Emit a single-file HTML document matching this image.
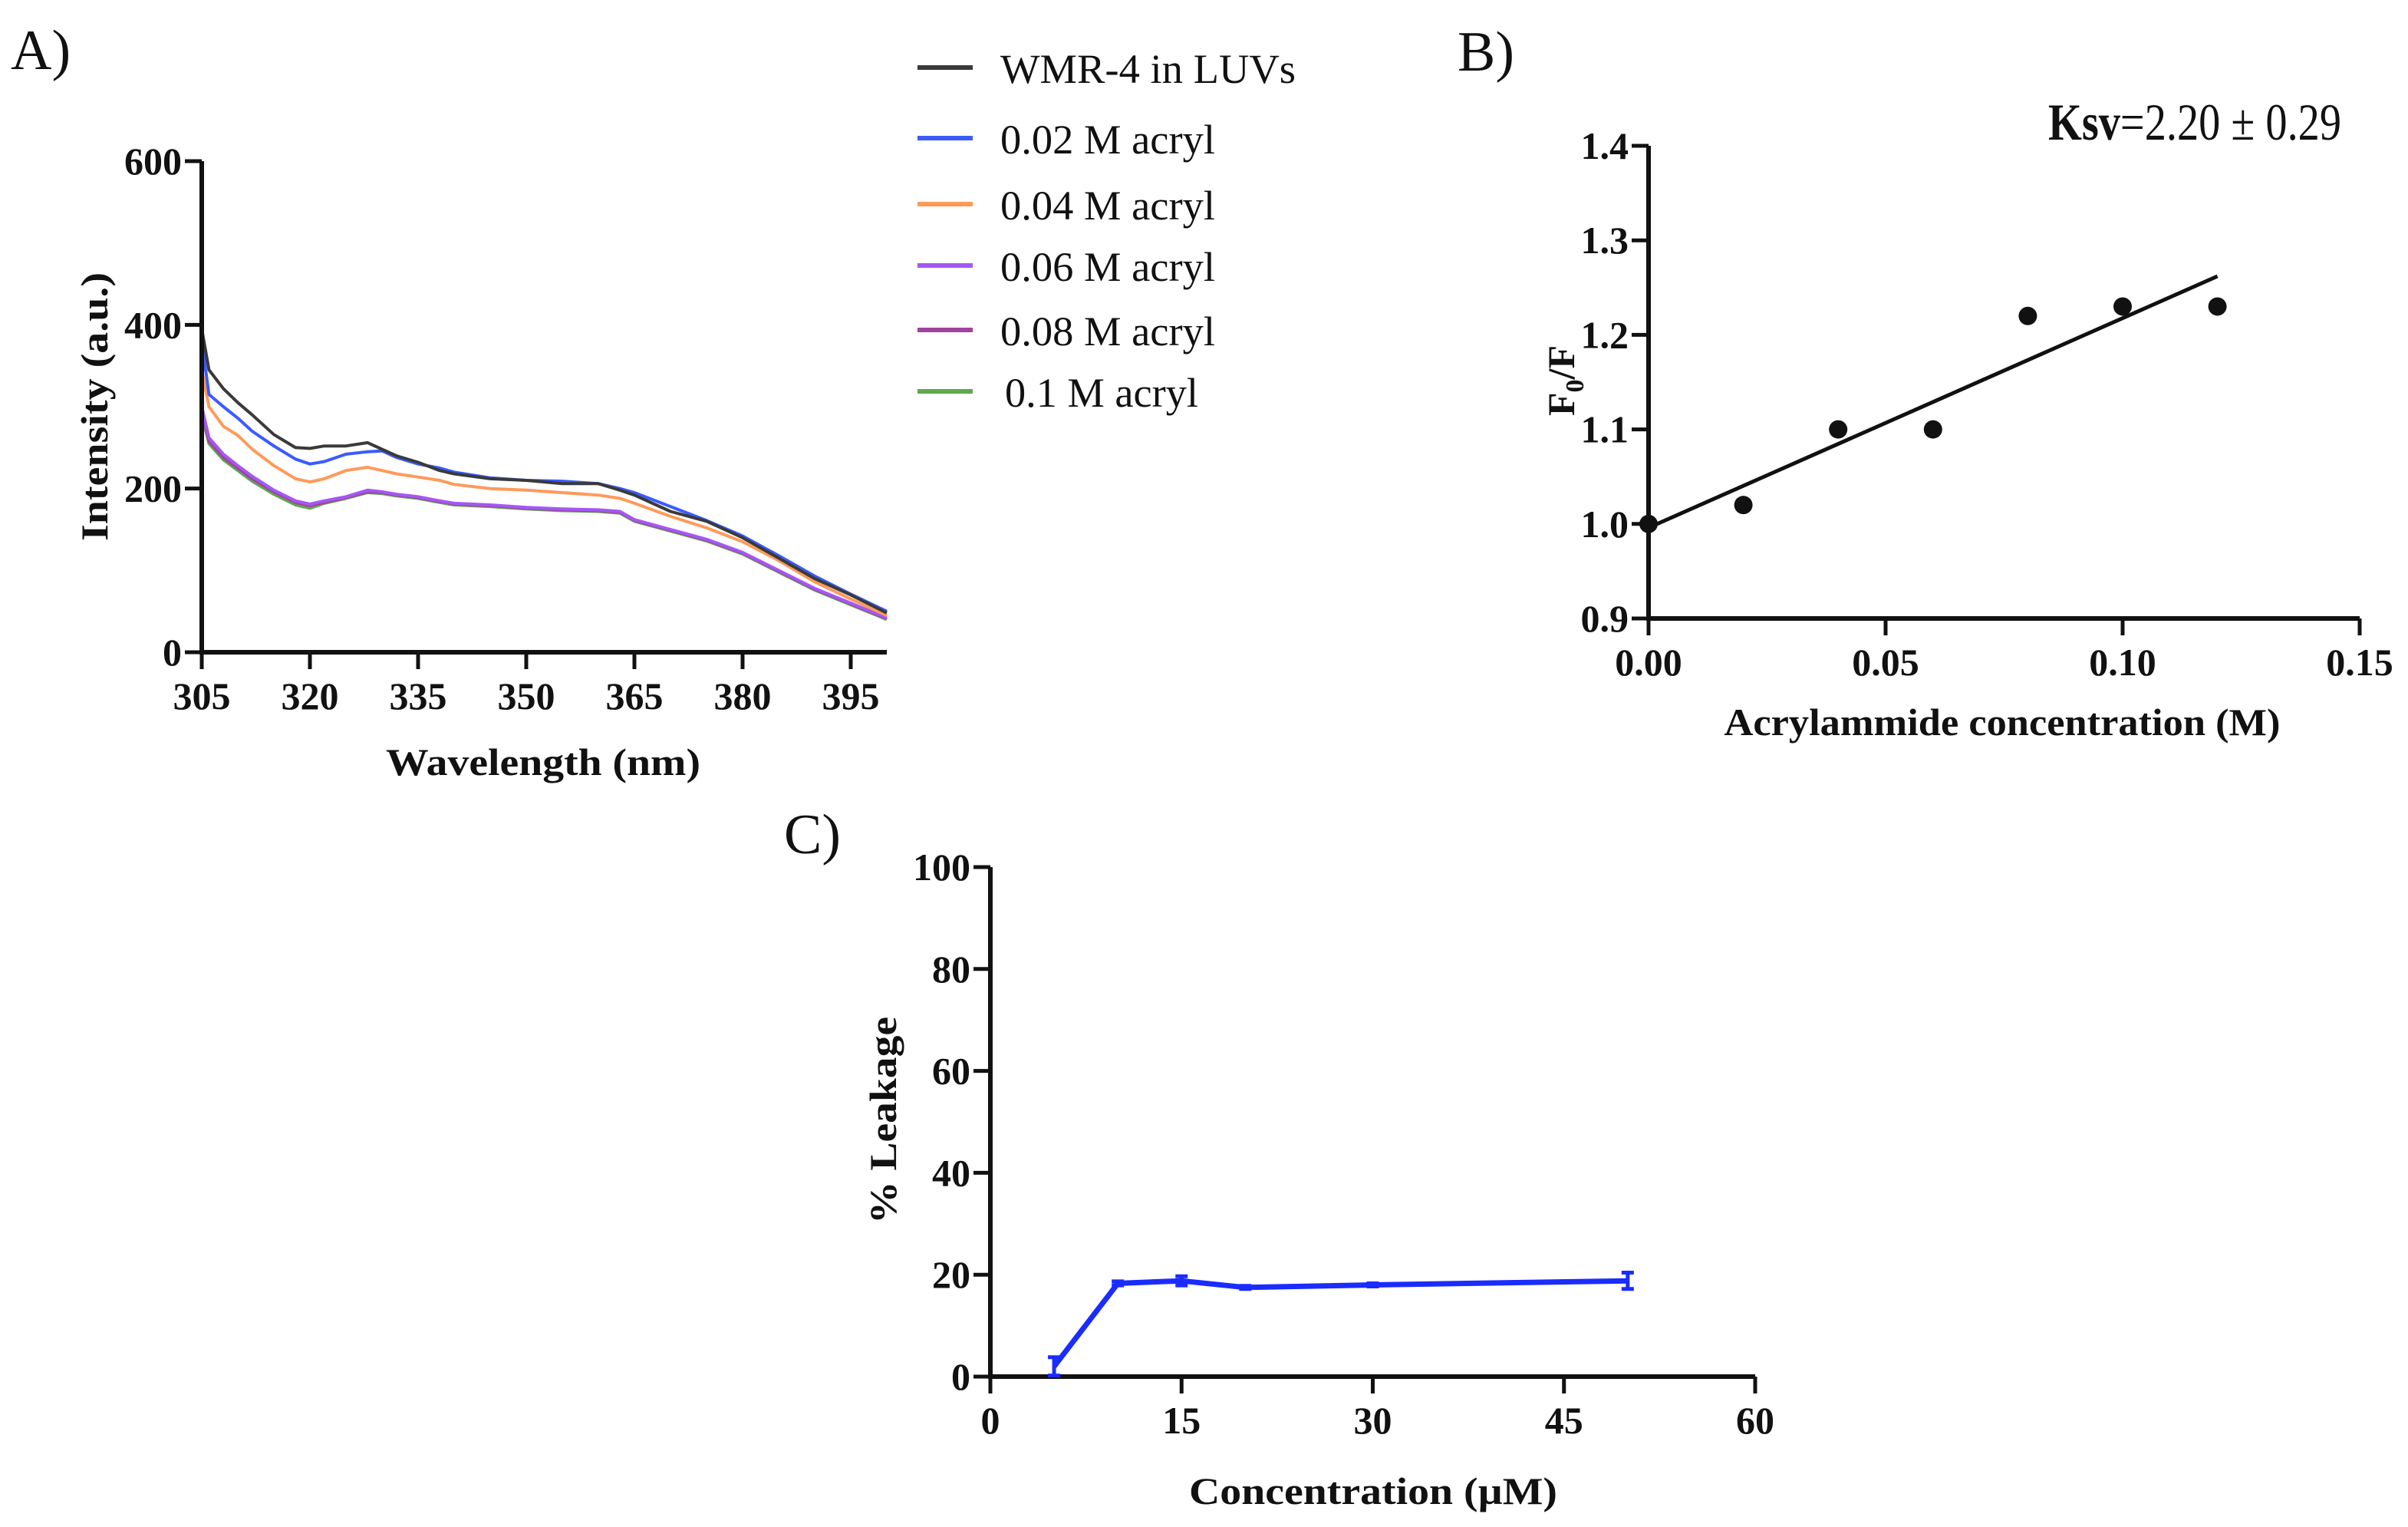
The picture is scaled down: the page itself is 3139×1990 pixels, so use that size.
<!DOCTYPE html>
<html><head><meta charset="utf-8">
<style>
html,body{margin:0;padding:0;background:#fff;}
svg{display:block;}
text{font-family:"Liberation Serif",serif;fill:#111;}
.tick{font-weight:bold;font-size:50px;}
.ttl{font-weight:bold;font-size:50px;}
.leg{font-size:54px;}
.panel{font-size:74px;}
</style></head>
<body>
<svg id="fig" width="3139" height="1990" viewBox="0 0 3139 1990" xmlns="http://www.w3.org/2000/svg">
<g id="gA"></g>
<g id="gB"></g>
<g id="gC"></g>
</svg>
<script>
// ---------- Panel A data ----------
const wl = [305,306,308,310,312,315,318,320,322,325,328,330,332,335,338,340,345,350,355,360,363,365,370,375,380,385,390,395,400];
const sBlack  = [395,345,322,305,290,266,250,249,252,252,256,248,240,232,222,218,212,210,206,206,198,192,172,160,140,115,90,70,48];
const sBlue   = [380,315,300,286,270,252,236,230,233,242,245,246,238,230,225,220,213,210,209,206,200,195,178,161,142,118,93,71,50];
const sOrange = [345,300,276,265,248,228,212,208,212,222,226,222,218,214,210,205,200,198,195,192,188,182,166,152,135,112,86,65,45];
const s006    = [300,262,242,228,215,198,185,181,185,190,198,196,193,190,185,182,180,177,175,174,172,162,150,138,122,100,78,60,42];
const s008    = [296,258,238,225,212,196,183,179,183,189,196,195,192,189,184,181,179,176,174,173,171,161,149,137,121,99,77,59,41];
const s01     = [290,255,235,222,209,193,180,176,182,188,195,194,191,188,183,180,178,175,173,172,170,160,148,136,120,98,76,58,40];
const seriesNames = ["WMR-4 in LUVs","0.02 M acryl","0.04 M acryl","0.06 M acryl","0.08 M acryl","0.1 M acryl"];
const seriesColors = ["#3a3a3a","#3b5bff","#ff9a5a","#a557f5","#a0449f","#5ea84e"];
const ticksAx = [305,320,335,350,365,380,395];
const ticksAy = [0,200,400,600];
// ---------- Panel B data ----------
const concB = [0,0.02,0.04,0.06,0.08,0.10,0.12];
const ratioB = [1.00,1.02,1.10,1.10,1.22,1.23,1.23];
const fitB = [0.996,1.262];
const fitXB = [0,0.12];
const ticksBx = [0,0.05,0.10,0.15];
const ticksBy = [0.9,1.0,1.1,1.2,1.3,1.4];
// ---------- Panel C data ----------
const concC = [5,10,15,20,30,50];
const leakC = [2,18.3,18.8,17.5,18,18.8];
const errC  = [1.8,0.4,0.9,0.3,0.3,1.6];
const ticksCx = [0,15,30,45,60];
const ticksCy = [0,20,40,60,80,100];

const NS="http://www.w3.org/2000/svg";
function mk(parent,tag,attrs,txt){const e=document.createElementNS(NS,tag);for(const k in attrs)e.setAttribute(k,attrs[k]);if(txt!==undefined)e.textContent=txt;parent.appendChild(e);return e;}

function axes(g,X,Y,x0,x1,y0,y1,xt,yt,fmtX,fmtY,prefix){
  const xa=mk(g,'line',{x1:X(x0),y1:Y(y0),x2:X(x1),y2:Y(y0),stroke:'#111','stroke-width':6});
  
  
  const ya=mk(g,'line',{x1:X(x0),y1:Y(y0)+3,x2:X(x0),y2:Y(y1),stroke:'#111','stroke-width':6});
  
  
  xt.forEach(v=>{
    mk(g,'line',{x1:X(v),y1:Y(y0),x2:X(v),y2:Y(y0)+22,stroke:'#111','stroke-width':5});
    const t=mk(g,'text',{x:X(v),y:Y(y0)+74,'text-anchor':'middle',class:'tick'},fmtX(v));
    
    
  });
  yt.forEach(v=>{
    mk(g,'line',{x1:X(x0)-22,y1:Y(v),x2:X(x0),y2:Y(v),stroke:'#111','stroke-width':5});
    const t=mk(g,'text',{x:X(x0)-26,y:Y(v)+17,'text-anchor':'end',class:'tick'},fmtY(v));
    
    
  });
}

// ---------- Panel A ----------
(function(){
  const g=document.getElementById('gA');
  const X=v=>263+(v-305)*(1156-263)/95;
  const Y=v=>850-v*(850-210)/600;
  const all=[sBlack,sBlue,sOrange,s006,s008,s01];
  for(let i=all.length-1;i>=0;i--){
    const d=all[i].map((v,j)=>(j?'L':'M')+X(wl[j]).toFixed(1)+','+Y(v).toFixed(1)).join(' ');
    const p=mk(g,'path',{d:d,fill:'none',stroke:seriesColors[i],'stroke-width':4,'stroke-linejoin':'round'});
    
    
  }
  axes(g,X,Y,305,400,0,600,ticksAx,ticksAy,v=>String(v),v=>String(v),'a');
  const lbl=mk(g,'text',{x:14,y:90,class:'panel'},'A)');
  
  
  const xt=mk(g,'text',{x:708,y:1010,'text-anchor':'middle',class:'ttl',textLength:410,lengthAdjust:'spacingAndGlyphs'},'Wavelength (nm)');
  
  
  const yt=mk(g,'text',{x:0,y:0,'text-anchor':'middle',class:'ttl',transform:'translate(140,530) rotate(-90)',textLength:350,lengthAdjust:'spacingAndGlyphs'},'Intensity (a.u.)');
  
  
  const rowsY=[88,180,266,346,430,510];
  const widths=[385,280,280,280,280,252];
  seriesNames.forEach((n,i)=>{
    const l=mk(g,'line',{x1:1196,y1:rowsY[i],x2:1268,y2:rowsY[i],stroke:seriesColors[i],'stroke-width':6});
    
    
    const t=mk(g,'text',{x:i==5?1310:1304,y:rowsY[i]+20,class:'leg',textLength:widths[i],lengthAdjust:'spacingAndGlyphs'},n);
    
    
  });
})();

// ---------- Panel B ----------
(function(){
  const g=document.getElementById('gB');
  const X=v=>2149+v*(3076-2149)/0.15;
  const Y=v=>806-(v-0.9)*(806-190)/0.5;
  axes(g,X,Y,0,0.15,0.9,1.4,ticksBx,ticksBy,v=>v.toFixed(2),v=>v.toFixed(1),'b');
  const fl=mk(g,'line',{x1:X(fitXB[0]),y1:Y(fitB[0]),x2:X(fitXB[1]),y2:Y(fitB[1]),stroke:'#111','stroke-width':5});
  
  
  concB.forEach((c,i)=>{
    const p=mk(g,'circle',{cx:X(c),cy:Y(ratioB[i]),r:12,fill:'#111'});
    
    
  });
  const lbl=mk(g,'text',{x:1900,y:92,class:'panel'},'B)');
  
  
  const ks=mk(g,'text',{x:2670,y:182,style:'font-size:68px',textLength:382,lengthAdjust:'spacingAndGlyphs'});
  
  
  mk(ks,'tspan',{'font-weight':'bold'},'Ksv');
  mk(ks,'tspan',{},'=2.20 ± 0.29');
  const xt=mk(g,'text',{x:2610,y:958,'text-anchor':'middle',class:'ttl',textLength:725,lengthAdjust:'spacingAndGlyphs'},'Acrylammide concentration (M)');
  
  
  const yt=mk(g,'text',{x:0,y:0,'text-anchor':'middle',class:'ttl',transform:'translate(2052,496) rotate(-90)'});
  
  
  mk(yt,'tspan',{},'F');
  mk(yt,'tspan',{dy:12,style:'font-size:34px'},'0');
  mk(yt,'tspan',{dy:-12},'/F');
})();

// ---------- Panel C ----------
(function(){
  const g=document.getElementById('gC');
  const X=v=>1291+v*(2288-1291)/60;
  const Y=v=>1794-v*(1794-1130)/100;
  axes(g,X,Y,0,60,0,100,ticksCx,ticksCy,v=>String(v),v=>String(v),'c');
  const d=concC.map((c,i)=>(i?'L':'M')+X(c).toFixed(1)+','+Y(leakC[i]).toFixed(1)).join(' ');
  const p=mk(g,'path',{d:d,fill:'none',stroke:'#1a2cff','stroke-width':7,'stroke-linejoin':'round'});
  
  
  concC.forEach((c,i)=>{
    const x=X(c),ya=Y(leakC[i]+errC[i]),yb=Y(Math.max(0,leakC[i]-errC[i]));
    const eb=mk(g,'path',{d:`M${x},${ya}L${x},${yb}M${x-8},${ya}L${x+8},${ya}M${x-8},${yb}L${x+8},${yb}`,stroke:'#1a2cff','stroke-width':5,fill:'none'});
    
    
  });
  const lbl=mk(g,'text',{x:1022,y:1112,class:'panel'},'C)');
  
  
  const xt=mk(g,'text',{x:1790,y:1960,'text-anchor':'middle',class:'ttl',textLength:480,lengthAdjust:'spacingAndGlyphs'},'Concentration (µM)');
  
  
  const yt=mk(g,'text',{x:0,y:0,'text-anchor':'middle',class:'ttl',transform:'translate(1168,1460) rotate(-90)',textLength:270,lengthAdjust:'spacingAndGlyphs'},'% Leakage');
  
  
})();
</script>
</body></html>
